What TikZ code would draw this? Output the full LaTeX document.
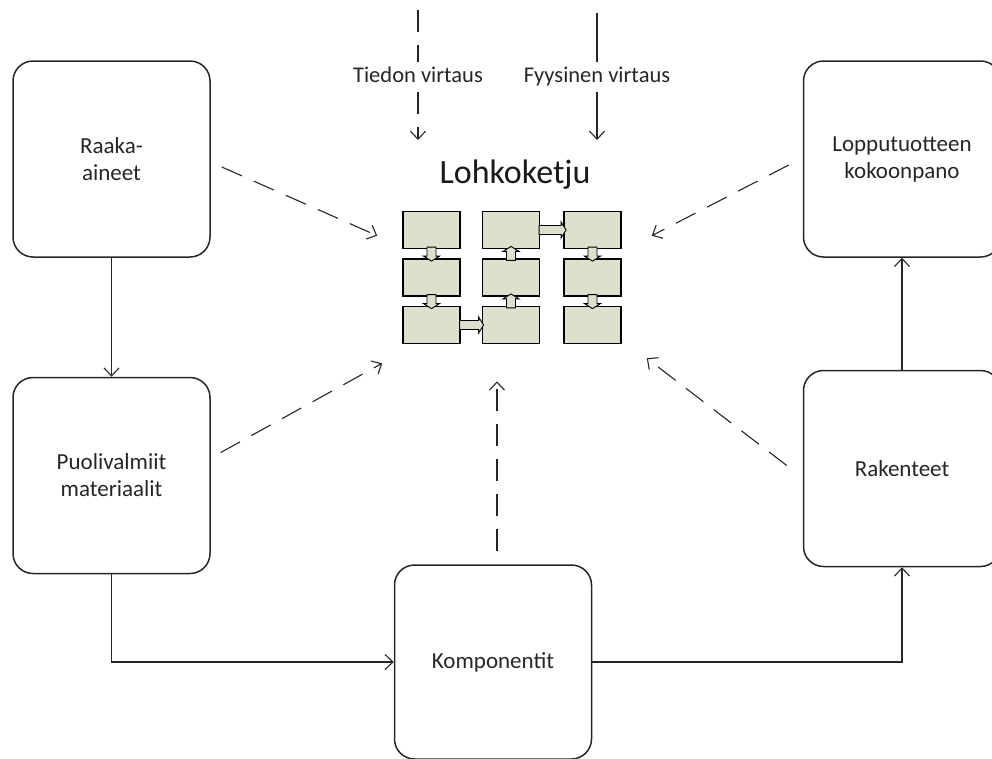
\documentclass[tikz,border=0pt]{standalone}
\usepackage{fontspec}
\setmainfont{Carlito}
\usetikzlibrary{arrows.meta,calc,fit}
\definecolor{chainfill}{RGB}{221,224,204}
\definecolor{ink}{RGB}{38,38,38}
\tikzset{
  stage/.style={draw=ink, line width=1.5pt, rounded corners=20pt,
    minimum width=197pt, minimum height=196pt, align=center,
    font=\fontsize{23}{27}\selectfont, text=ink},
  flow/.style={draw=ink, line width=1.1pt, -{Straight Barb[length=8pt,width=15pt]}},
  info/.style={flow, dash pattern=on 22pt off 13pt},
  infoline/.style={draw=ink, line width=1.1pt, dash pattern=on 22pt off 13pt},
  block/.style={draw=black, line width=1.2pt, fill=chainfill,
    minimum width=57pt, minimum height=37pt, inner sep=0pt},
  legend/.style={font=\fontsize{22.5}{26}\selectfont, text=ink,
    text height=16pt, text depth=5pt, minimum height=30pt, inner sep=0pt},
  title/.style={font=\fontsize{34}{38}\selectfont, text=black!90},
  pics/blockarr/.style={code={
    \draw[line width=0.9pt, fill=chainfill, line join=miter]
      (0,-4.5) -- (#1-5,-4.5) -- (#1-5,-8) -- (#1,0) -- (#1-5,8)
      -- (#1-5,4.5) -- (0,4.5) -- cycle;}},
}
\begin{document}
\begin{tikzpicture}[x=1pt,y=-1pt]
\useasboundingbox (0,0) rectangle (992,758);
\clip (0,0) rectangle (992,758);

% process stages
\node[stage] (raaka) at (111.5,159) {Raaka-\\aineet};
\node[stage] (puol)  at (111.5,475.5) {Puolivalmiit\\materiaalit};
\node[stage, minimum height=194pt] (komp) at (493,662) {Komponentit};
\node[stage] (rak)   at (902,468.5) {Rakenteet};
\node[stage] (lopp)  at (902,159) {Lopputuotteen\\kokoonpano};

% physical flow between stages
\draw[flow] (raaka) -- (puol);
\draw[flow] (puol.south) |- (komp.west);
\draw[flow] (komp.east) -| (rak.south);
\draw[flow] (rak) -- (lopp);

% legend
\coordinate (tiedtop) at (418,10);
\node[legend] (tied) at (418,77) {Tiedon virtaus};
\coordinate (tiedend) at (418,140);
\draw[infoline] (tiedtop) -- (tied);
\draw[info] (tied) -- (tiedend);

\coordinate (fyystop) at (597,13);
\node[legend] (fyys) at (597,77) {Fyysinen virtaus};
\coordinate (fyysend) at (597,140);
\draw[draw=ink, line width=1.1pt] (fyystop) -- (fyys);
\draw[flow] (fyys) -- (fyysend);

% blockchain
\node[title] (ketju) at (515,175) {Lohkoketju};
\foreach \c/\x in {1/431.5,2/511,3/592.5}{
  \foreach \r/\y in {1/230,2/277.5,3/325}{
    \node[block] (b\r\c) at (\x,\y) {};
  }
}
\node[fit=(b11)(b33), inner sep=0pt] (chain) {};

% links between the blocks (y axis points down: -90 is downwards)
\pic[rotate=-90] at ($(b11.south)+(0,-2)$) {blockarr=14};
\pic[rotate=-90] at ($(b21.south)+(0,-2)$) {blockarr=14};
\pic             at ($(b31.east)+(-1,0)$)  {blockarr=24};
\pic[rotate=90]  at ($(b32.north)+(0,2)$)  {blockarr=14};
\pic[rotate=90]  at ($(b22.north)+(0,2)$)  {blockarr=14};
\pic             at ($(b12.east)+(-1,0)$)  {blockarr=27};
\pic[rotate=-90] at ($(b13.south)+(0,-2)$) {blockarr=14};
\pic[rotate=-90] at ($(b23.south)+(0,-2)$) {blockarr=14};

% information flow into the chain
\coordinate (d1s) at ($(raaka.east)+(11,8)$);
\coordinate (d1e) at ($(chain.north west)+(-25,25)$);
\coordinate (d2s) at ($(puol.east)+(10,-23)$);
\coordinate (d2e) at ($(chain.south west)+(-20,19)$);
\coordinate (d3s) at ($(lopp.west)+(-14,6)$);
\coordinate (d3e) at ($(chain.north east)+(30,25)$);
\coordinate (d4s) at ($(rak.west)+(-16,-3)$);
\coordinate (d4e) at ($(chain.south east)+(25,14)$);
\coordinate (d5s) at ($(komp.north)+(4,-13)$);
\coordinate (d5e) at ($(chain.south)+(-15,37)$);
\draw[info] (d1s) -- (d1e);
\draw[info] (d2s) -- (d2e);
\draw[info] (d3s) -- (d3e);
\draw[info] (d4s) -- (d4e);
\draw[info] (d5s) -- (d5e);
\end{tikzpicture}
\end{document}
